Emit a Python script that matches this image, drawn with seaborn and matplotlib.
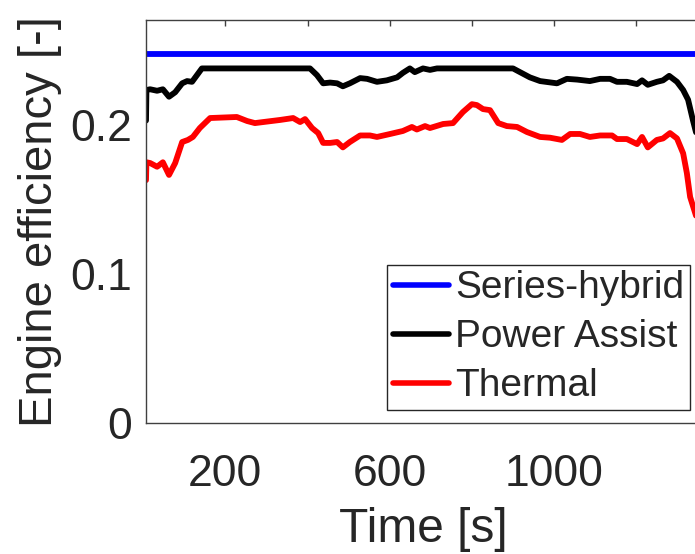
import numpy as np
import pandas as pd
import matplotlib
matplotlib.use("Agg")
import matplotlib.pyplot as plt
import seaborn as sns

sns.set_theme(style="white")
plt.rcParams['font.family'] = ['Liberation Sans', 'DejaVu Sans']

# данные
t_black = [7, 8, 17, 34, 48, 63, 78, 95, 107, 119, 131, 143, 406, 423, 438, 455, 472, 486,
           503, 528, 545, 569, 593, 618, 632, 649, 661, 681, 698, 715, 900, 917, 941, 966,
           1007, 1031, 1056, 1087, 1112, 1136, 1153, 1177, 1202, 1214, 1228, 1250, 1265,
           1280, 1299, 1314, 1326, 1338, 1350]
eff_black = [0.203, 0.2235, 0.224, 0.223, 0.224, 0.219, 0.222, 0.228, 0.2295, 0.229, 0.2335,
             0.238, 0.238, 0.2335, 0.228, 0.2285, 0.228, 0.226, 0.228, 0.2315, 0.231, 0.229,
             0.230, 0.232, 0.235, 0.238, 0.2355, 0.238, 0.237, 0.238, 0.238, 0.2355, 0.232,
             0.2295, 0.228, 0.231, 0.2305, 0.2295, 0.231, 0.231, 0.229, 0.229, 0.2275, 0.230,
             0.227, 0.229, 0.230, 0.233, 0.229, 0.2235, 0.217, 0.203, 0.19]

t_red = [7, 8, 17, 34, 48, 63, 78, 95, 109, 121, 138, 163, 228, 253, 272, 292, 333, 365, 382,
         394, 411, 426, 438, 455, 472, 486, 503, 528, 552, 569, 601, 632, 654, 666, 686, 698,
         730, 754, 778, 800, 812, 827, 844, 864, 885, 910, 934, 966, 990, 1019, 1039, 1063,
         1087, 1112, 1141, 1153, 1177, 1202, 1214, 1228, 1250, 1265, 1282, 1299, 1314, 1323,
         1331, 1350]
eff_red = [0.163, 0.175, 0.1745, 0.172, 0.175, 0.1665, 0.1745, 0.1886, 0.190, 0.192, 0.198,
           0.2047, 0.2054, 0.2027, 0.2013, 0.202, 0.2034, 0.2047, 0.202, 0.204, 0.198, 0.1946,
           0.188, 0.188, 0.1886, 0.185, 0.1886, 0.193, 0.193, 0.192, 0.194, 0.196, 0.1987,
           0.197, 0.1993, 0.198, 0.2007, 0.2013, 0.2087, 0.214, 0.2134, 0.2107, 0.210, 0.2013,
           0.1993, 0.1987, 0.1953, 0.192, 0.1915, 0.190, 0.194, 0.194, 0.192, 0.193, 0.193,
           0.1906, 0.1906, 0.1872, 0.192, 0.185, 0.190, 0.191, 0.1946, 0.191, 0.181, 0.1678,
           0.1517, 0.135]

t_blue = [7, 1360]
eff_blue = [0.248, 0.248]

x_ticks = [200, 400, 600, 800, 1000, 1200]
x_ticklabels = ['200', '', '600', '', '1000', '']
y_ticks = [0, 0.1, 0.2]
y_ticklabels = ['0', '0.1', '0.2']

text_c = '#262626'

fig = plt.figure(figsize=(6.95, 5.54), dpi=100)
ax = fig.add_axes([146 / 695, 131 / 554, 554 / 695, 403 / 554])

sns.lineplot(x=t_blue, y=eff_blue, ax=ax, color='#0000ff', lw=4.2, label='Series-hybrid')
sns.lineplot(x=t_black, y=eff_black, ax=ax, color='black', lw=4.2, label='Power Assist')
sns.lineplot(x=t_red, y=eff_red, ax=ax, color='#ff0000', lw=4.2, label='Thermal')

ax.set_xlim(7, 1355)
ax.set_ylim(0, 0.2705)
ax.set_xticks(x_ticks)
ax.set_xticklabels(x_ticklabels)
ax.set_yticks(y_ticks)
ax.set_yticklabels(y_ticklabels)
ax.tick_params(direction='in', length=4, width=1, colors='#404040', labelcolor=text_c,
               labelsize=32, top=True, pad=10)
ax.tick_params(axis='x', pad=22)
for s in ax.spines.values():
    s.set_color('#404040')
    s.set_linewidth(1)

ax.set_xlabel('Time [s]', fontsize=34.5, color=text_c, labelpad=9)
ax.set_ylabel('Engine efficiency [-]', fontsize=34, color=text_c, labelpad=6)

leg = ax.legend(loc='lower right', bbox_to_anchor=(690 / 695, 144 / 554),
                bbox_transform=fig.transFigure, borderaxespad=0, fontsize=28,
                frameon=True, fancybox=False, edgecolor='#262626', framealpha=1,
                handlelength=1.45, handletextpad=0.15, labelspacing=0.33,
                borderpad=0.15)
leg.get_frame().set_linewidth(1)
for line in leg.get_lines():
    line.set_linewidth(4)

fig.savefig('out.png', dpi=100)
